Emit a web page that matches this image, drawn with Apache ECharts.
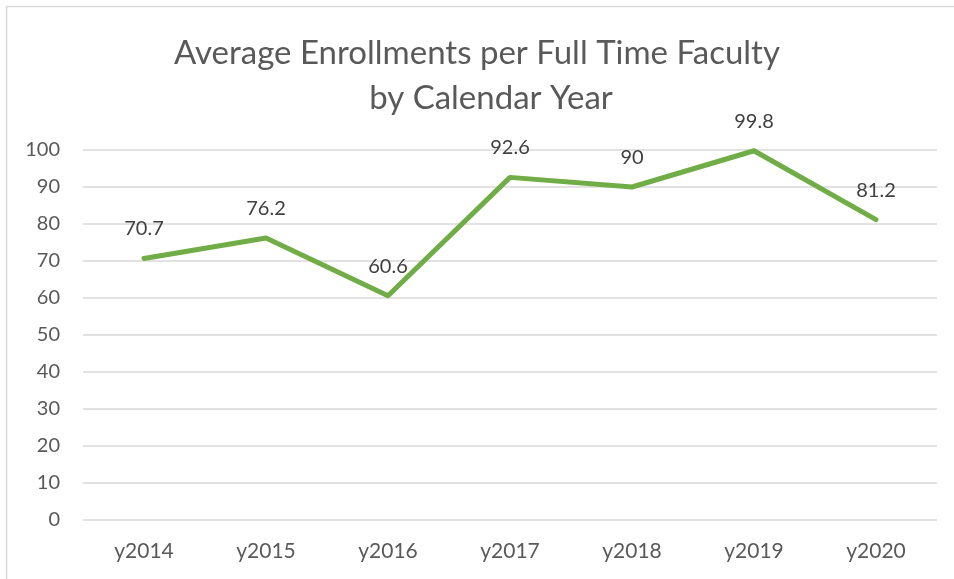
<!DOCTYPE html>
<html>
<head>
<meta charset="utf-8">
<script src="https://cdn.jsdelivr.net/npm/echarts@6/dist/echarts.min.js"></script>
<style>
  html, body { margin: 0; padding: 0; background: #fff; }
  #main { width: 954px; height: 579px; }
</style>
</head>
<body>
<div id="main"></div>
<script>
// data
var years = ['y2014', 'y2015', 'y2016', 'y2017', 'y2018', 'y2019', 'y2020'];
var enrollments = [70.7, 76.2, 60.6, 92.6, 90, 99.8, 81.2];

var chart = echarts.init(document.getElementById('main'));
var font = 'Lato, "Open Sans", sans-serif';
var titleStyle = {
  color: '#595959',
  fontFamily: font,
  fontWeight: 'normal',
  fontSize: 33
};

var options = {
  animation: false,
  title: [{
    left: 472,
    top: 32,
    textAlign: 'center',
    text: 'Average Enrollments per Full Time Faculty',
    textStyle: titleStyle
  }, {
    left: 486,
    top: 77,
    textAlign: 'center',
    text: 'by Calendar Year',
    textStyle: titleStyle
  }],
  grid: { left: 83, right: 17, top: 150, bottom: 59 },
  xAxis: {
    type: 'category',
    data: years,
    boundaryGap: true,
    axisLine: { show: false },
    axisTick: { show: false },
    axisLabel: { color: '#595959', fontFamily: font, fontSize: 21, margin: 21 }
  },
  yAxis: {
    type: 'value',
    min: 0,
    max: 100,
    interval: 10,
    axisLine: { show: false },
    axisTick: { show: false },
    axisLabel: { color: '#595959', fontFamily: font, fontSize: 20, margin: 23 },
    splitLine: { lineStyle: { color: '#d9d9d9', width: 1.5 } }
  },
  series: [{
    name: 'Average Enrollments',
    type: 'line',
    data: enrollments,
    symbol: 'circle',
    symbolSize: 1,
    showSymbol: true,
    lineStyle: { color: '#70ad47', width: 5, cap: 'round', join: 'round' },
    itemStyle: { color: '#70ad47' },
    label: {
      show: true,
      position: 'top',
      distance: 19,
      color: '#404040',
      fontFamily: font,
      fontSize: 20
    }
  }],
  graphic: [{
    type: 'rect',
    shape: { x: 6.5, y: 6.5, width: 1000, height: 1000 },
    style: { fill: 'none', stroke: '#d9d9d9', lineWidth: 1.5 },
    silent: true
  }]
};

chart.setOption(options);
</script>
</body>
</html>
